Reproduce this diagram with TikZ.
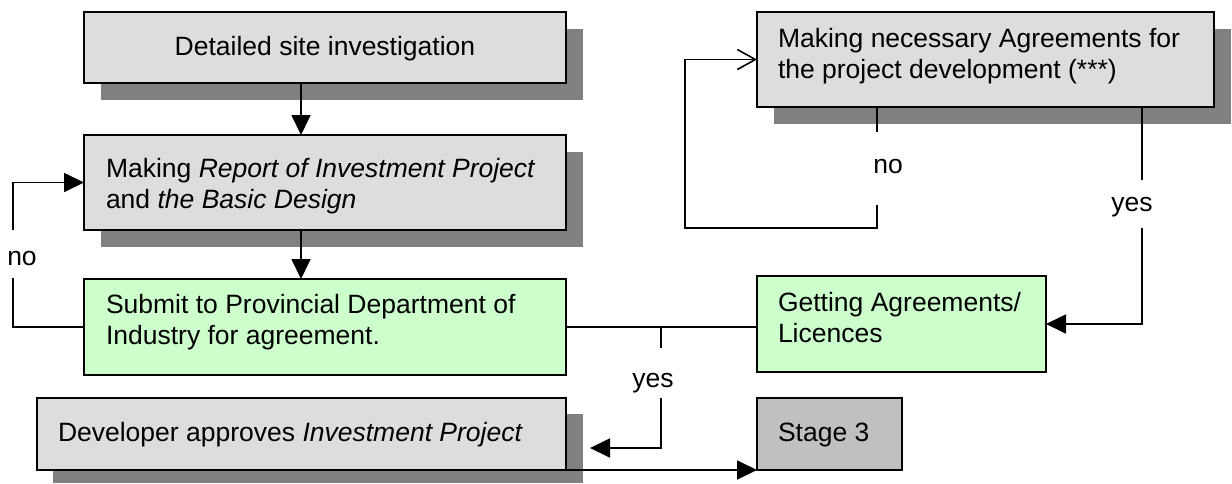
\documentclass[tikz,border=0pt]{standalone}
\usepackage{fontspec}
\setmainfont{Liberation Sans}
\usetikzlibrary{arrows.meta}
\definecolor{boxgray}{HTML}{DDDDDD}
\definecolor{shadowgray}{HTML}{808080}
\definecolor{boxgreen}{HTML}{CCFFCC}
\definecolor{stagegray}{HTML}{C0C0C0}
\begin{document}
\begin{tikzpicture}[x=1pt,y=-1pt,
  font=\fontsize{26.5}{31.5}\selectfont,
  boxnode/.style={draw=black, line width=2.2pt, inner sep=0pt, outer sep=0pt, anchor=north west},
  graybox/.style={boxnode, fill=boxgray},
  greenbox/.style={boxnode, fill=boxgreen},
  stagebox/.style={boxnode, fill=stagegray},
  shadowfill/.style={fill=shadowgray},
  txt/.style={inner sep=0pt, outer sep=0pt, anchor=base west},
  lbl/.style={inner sep=0pt, outer sep=0pt, anchor=base},
  conn/.style={draw=black, line width=1.8pt},
  arr/.style={-{Triangle[length=20pt,width=19pt]}},
  openarr/.style={-{Straight Barb[length=18pt,width=20pt,line width=1.6pt]}}
]
\useasboundingbox (0,0) rectangle (1232,483);

% shadows
\fill[shadowfill] (101,29) rectangle (583,100);
\fill[shadowfill] (101,152) rectangle (583,247);
\fill[shadowfill] (53,414) rectangle (583,483);
\fill[shadowfill] (774,29) rectangle (1231,124);

% boxes
\node[graybox, minimum width=482pt, minimum height=71pt] (B1) at (84,12) {};
\node[graybox, minimum width=482pt, minimum height=95pt] (B2) at (84,135) {};
\node[greenbox, minimum width=482pt, minimum height=96pt] (B3) at (84,279) {};
\node[graybox, minimum width=529pt, minimum height=72pt] (B4) at (37,398) {};
\node[graybox, minimum width=457pt, minimum height=95pt] (B5) at (757,12) {};
\node[greenbox, minimum width=289pt, minimum height=96pt] (B6) at (757,276) {};
\node[stagebox, minimum width=145pt, minimum height=72pt] (B7) at (757,398) {};

% texts
\node[lbl] (t1) at (325,55) {Detailed site investigation};
\node[txt] (t2) at (106,177) {\vtop{\hbox{Making \textit{Report of Investment Project}}\hbox{and \textit{the Basic Design}}}};
\node[txt] (t3) at (106,313) {\vtop{\hbox{Submit to Provincial Department of}\hbox{Industry for agreement.}}};
\node[txt] (t4) at (58,441) {Developer approves \textit{Investment Project}};
\node[txt] (t5) at (778,47) {\vtop{\hbox{Making necessary Agreements for}\hbox{the project development (***)}}};
\node[txt] (t6) at (778,311) {\vtop{\hbox{Getting Agreements/}\hbox{Licences}}};
\node[txt] (t7) at (778,441) {Stage 3};

% labels
\node[lbl] (no1) at (22,265) {no};
\node[lbl] (yes1) at (653,387) {yes};
\node[lbl] (no2) at (888,173) {no};
\node[lbl] (yes2) at (1132,211) {yes};

% coordinates
\coordinate (xa) at (301,0);
\coordinate (n1a) at (13,278);
\coordinate (n1b) at (13,230);
\coordinate (j1) at (661,327);
\coordinate (j1a) at (661,348);
\coordinate (j1b) at (661,398);
\coordinate (j1c) at (590,448);
\coordinate (n2a) at (877,132);
\coordinate (n2b) at (877,205);
\coordinate (n2c) at (685,228);
\coordinate (y2a) at (1142,180);
\coordinate (y2b) at (1142,228);

% connectors
\draw[conn,arr] (B1.south -| xa) -- (B2.north -| xa);
\draw[conn,arr] (B2.south -| xa) -- (B3.north -| xa);
\draw[conn] (B3.west) -| (n1a);
\draw[conn,arr] (n1b) |- (B2.west);
\draw[conn] (B3.east) -- (B3.east -| B6.west);
\draw[conn] (j1) -- (j1a);
\draw[conn,arr] (j1b) |- (j1c);
\draw[conn,arr] (B4.south east) -- (B7.south west);
\draw[conn] (B5.south -| n2a) -- (n2a);
\draw[conn,openarr] (n2b) |- (n2c) |- (B5.west);
\draw[conn] (B5.south -| y2a) -- (y2a);
\draw[conn,arr] (y2b) |- (B6.east);
\end{tikzpicture}
\end{document}
